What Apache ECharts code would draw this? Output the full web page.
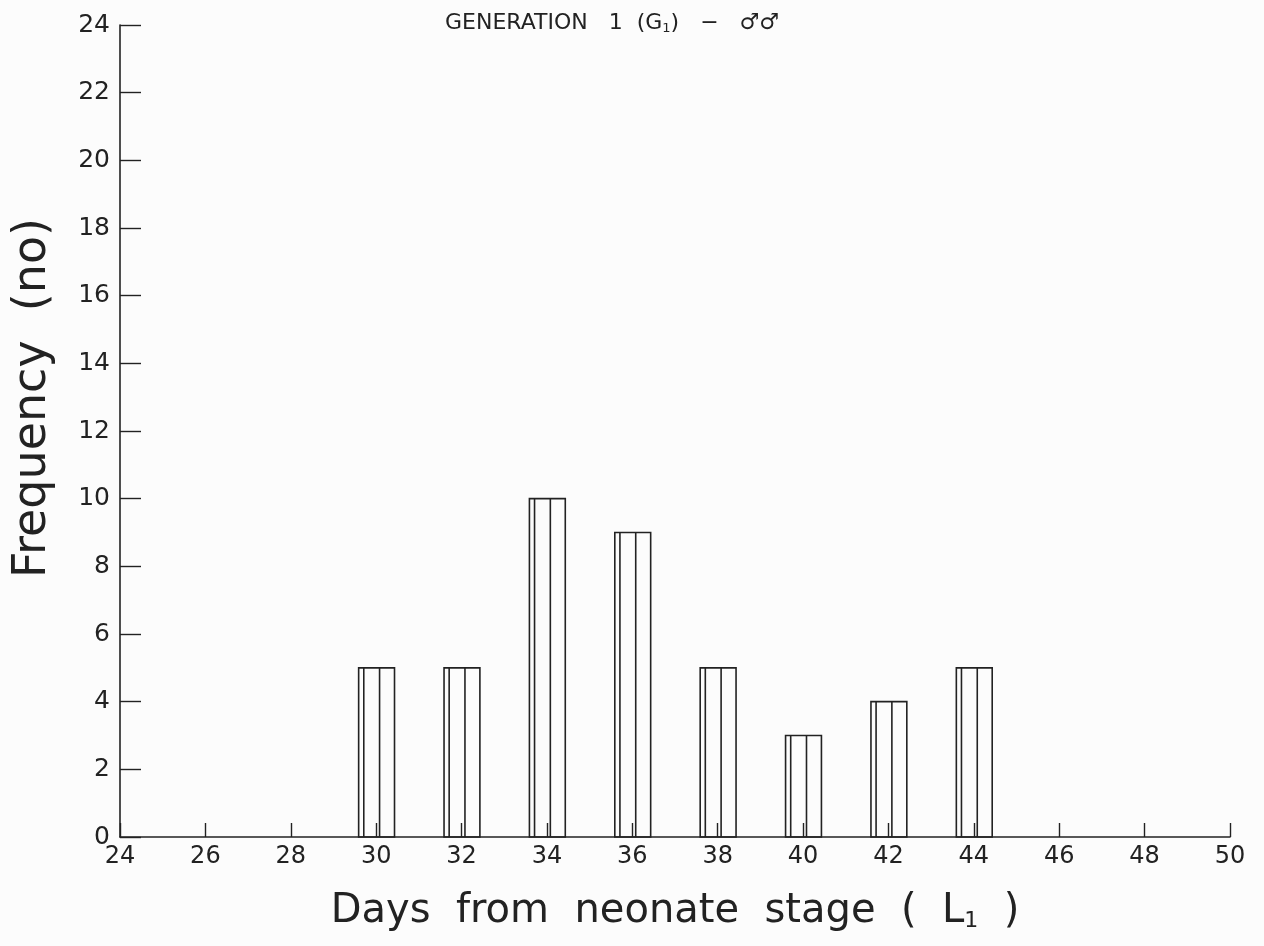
<!DOCTYPE html>
<html>
<head>
<meta charset="utf-8">
<script src="https://cdn.jsdelivr.net/npm/echarts@6/dist/echarts.min.js"></script>
<style>
  html, body { margin: 0; padding: 0; background: #fcfcfc; }
  #chart { width: 1264px; height: 946px; }
</style>
</head>
<body>
<div id="chart"></div>
<script>
// days from neonate stage (bar centres) and male counts
var days = [30, 32, 34, 36, 38, 40, 42, 44];
var freq = [5, 5, 10, 9, 5, 3, 4, 5];

var ink = '#222';
var font = 'DejaVu Sans';

var chart = echarts.init(document.getElementById('chart'));

chart.setOption({
    backgroundColor: '#fcfcfc',
    animation: false,
    title: {
        text: 'GENERATION   1  (G{sub|1})   \u2212   \u2642\u2642',
        left: 440,
        top: 7,
        textStyle: {
            color: ink,
            fontFamily: font,
            fontWeight: 'normal',
            fontSize: 22,
            rich: {
                sub: { fontSize: 13, verticalAlign: 'bottom', padding: [10, 0, 0, 0], color: ink, fontFamily: font }
            }
        }
    },
    grid: { left: 120, right: 34, top: 25, bottom: 109, outerBoundsMode: 'none' },
    xAxis: {
        type: 'value',
        min: 24,
        max: 50,
        interval: 2,
        name: 'Days  from  neonate  stage  (  L{sub|1}  )',
        nameLocation: 'middle',
        nameGap: 55,
        nameTextStyle: {
            color: ink,
            fontFamily: font,
            fontSize: 40,
            rich: {
                sub: { fontSize: 22, verticalAlign: 'bottom', padding: [18, 0, 0, 0], color: ink, fontFamily: font }
            }
        },
        axisLine: { lineStyle: { color: ink, width: 1.6 } },
        axisTick: { inside: true, length: 14, lineStyle: { color: ink, width: 1.4 } },
        axisLabel: { color: ink, fontFamily: font, fontSize: 24, margin: 8 },
        splitLine: { show: false }
    },
    yAxis: {
        type: 'value',
        min: 0,
        max: 24,
        interval: 2,
        name: 'Frequency  (no)',
        nameLocation: 'middle',
        nameGap: 64,
        nameTextStyle: { color: ink, fontFamily: font, fontSize: 46, padding: [0, 0, 0, 66] },
        axisLine: { show: true, lineStyle: { color: ink, width: 1.6 } },
        axisTick: { show: true, inside: true, length: 21, lineStyle: { color: ink, width: 1.4 } },
        axisLabel: { color: ink, fontFamily: font, fontSize: 25, margin: 10 },
        splitLine: { show: false }
    },
    series: [{
        type: 'custom',
        data: days.map(function (d, i) { return [d, freq[i]]; }),
        renderItem: function (params, api) {
            var x = api.value(0);
            var v = api.value(1);
            var base = api.coord([x, 0])[1];
            var top = api.coord([x, v])[1];
            var xl = api.coord([x - 0.41, 0])[0];
            var xl2 = api.coord([x - 0.29, 0])[0];
            var xm = api.coord([x + 0.08, 0])[0];
            var xr = api.coord([x + 0.43, 0])[0];
            var st = { stroke: ink, lineWidth: 1.6, fill: null };
            return {
                type: 'group',
                children: [
                    { type: 'rect', shape: { x: xl, y: top, width: xr - xl, height: base - top }, style: st },
                    { type: 'line', shape: { x1: xl2, y1: top, x2: xl2, y2: base }, style: st },
                    { type: 'line', shape: { x1: xm, y1: top, x2: xm, y2: base }, style: st }
                ]
            };
        }
    }]
});
</script>
</body>
</html>
